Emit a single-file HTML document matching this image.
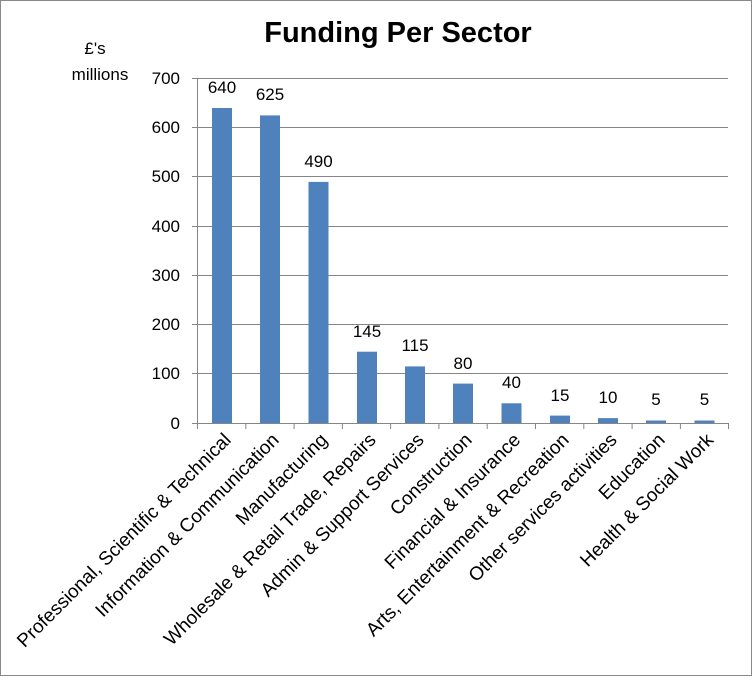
<!DOCTYPE html><html><head><style>body{margin:0}</style></head><body>
<svg width="752" height="676" xmlns="http://www.w3.org/2000/svg" font-family="Liberation Sans, sans-serif">
<rect x="0.5" y="0.5" width="751" height="675" fill="#fff" stroke="#888"/>
<text x="398" y="42" text-anchor="middle" font-size="29" font-weight="bold">Funding Per Sector</text>
<text x="95" y="54" text-anchor="middle" font-size="17">£'s</text>
<text x="100" y="80" text-anchor="middle" font-size="17">millions</text>
<g stroke="#868686" stroke-width="1">
<line x1="192" y1="78.5" x2="728" y2="78.5"/><line x1="192" y1="127.5" x2="728" y2="127.5"/><line x1="192" y1="176.5" x2="728" y2="176.5"/><line x1="192" y1="226.5" x2="728" y2="226.5"/><line x1="192" y1="275.5" x2="728" y2="275.5"/><line x1="192" y1="324.5" x2="728" y2="324.5"/><line x1="192" y1="373.5" x2="728" y2="373.5"/><line x1="192" y1="423.5" x2="728" y2="423.5"/>
<line x1="197.5" y1="78" x2="197.5" y2="423"/>
<line x1="197.5" y1="423" x2="197.5" y2="429"/><line x1="245.8" y1="423" x2="245.8" y2="429"/><line x1="294.1" y1="423" x2="294.1" y2="429"/><line x1="342.4" y1="423" x2="342.4" y2="429"/><line x1="390.6" y1="423" x2="390.6" y2="429"/><line x1="438.9" y1="423" x2="438.9" y2="429"/><line x1="487.2" y1="423" x2="487.2" y2="429"/><line x1="535.5" y1="423" x2="535.5" y2="429"/><line x1="583.8" y1="423" x2="583.8" y2="429"/><line x1="632.1" y1="423" x2="632.1" y2="429"/><line x1="680.4" y1="423" x2="680.4" y2="429"/><line x1="728.5" y1="423" x2="728.5" y2="429"/>
</g>
<g font-size="17" text-anchor="end">
<text x="180" y="84">700</text><text x="180" y="133">600</text><text x="180" y="182">500</text><text x="180" y="232">400</text><text x="180" y="281">300</text><text x="180" y="330">200</text><text x="180" y="379">100</text><text x="180" y="429">0</text>
</g>
<g fill="#4f81bd">
<rect x="212" y="108" width="20" height="315"/>
<rect x="260" y="115.4" width="20" height="307.6"/>
<rect x="308.5" y="181.9" width="20" height="241.1"/>
<rect x="357" y="351.7" width="20" height="71.3"/>
<rect x="405" y="366.4" width="20" height="56.6"/>
<rect x="453" y="383.6" width="20" height="39.4"/>
<rect x="501.5" y="403.3" width="20" height="19.7"/>
<rect x="550" y="415.6" width="20" height="7.4"/>
<rect x="598" y="418.1" width="20" height="4.9"/>
<rect x="646" y="420.5" width="20" height="2.5"/>
<rect x="694.5" y="420.5" width="20" height="2.5"/>
</g>
<g font-size="17" text-anchor="middle">
<text x="222" y="93">640</text><text x="270" y="100">625</text><text x="318.5" y="167">490</text><text x="367" y="337">145</text><text x="415" y="351">115</text><text x="463" y="369">80</text><text x="511.5" y="388">40</text><text x="560" y="401">15</text><text x="608" y="403">10</text><text x="656" y="405">5</text><text x="704.5" y="405">5</text>
</g>
<g font-size="19" text-anchor="end">
<text transform="translate(232,441) rotate(-45)">Professional, Scientific &amp; Technical</text>
<text transform="translate(280,441) rotate(-45)">Information &amp; Communication</text>
<text transform="translate(328.5,441) rotate(-45)">Manufacturing</text>
<text transform="translate(377,441) rotate(-45)">Wholesale &amp; Retail Trade, Repairs</text>
<text transform="translate(425,441) rotate(-45)">Admin &amp; Support Services</text>
<text transform="translate(473,441) rotate(-45)">Construction</text>
<text transform="translate(521.5,441) rotate(-45)">Financial &amp; Insurance</text>
<text transform="translate(570,441) rotate(-45)">Arts, Entertainment &amp; Recreation</text>
<text transform="translate(618,441) rotate(-45)">Other services activities</text>
<text transform="translate(666,441) rotate(-45)">Education</text>
<text transform="translate(714.5,441) rotate(-45)">Health &amp; Social Work</text>
</g>
</svg>
</body></html>
